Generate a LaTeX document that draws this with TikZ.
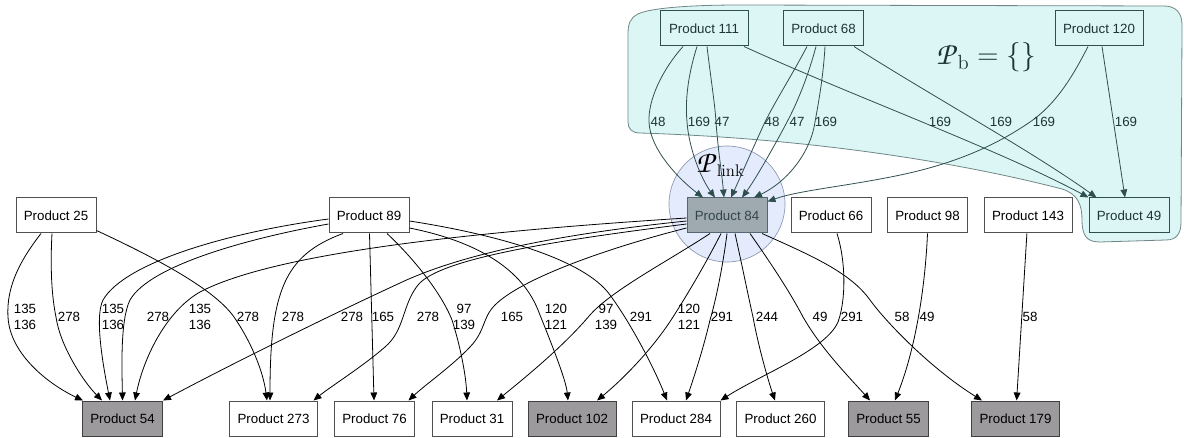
\documentclass[tikz,border=0pt]{standalone}
\usepackage{fix-cm}
\usepackage[no-math]{fontspec}
\newfontfamily\lsans{Liberation Sans}
\usetikzlibrary{arrows.meta,calc,backgrounds}
\DeclareMathAlphabet{\mathpzc}{OT1}{pzc}{m}{it}

\definecolor{slate}{HTML}{2F4F4F}
\definecolor{slatetext}{HTML}{1F3535}
\definecolor{clusterfill}{HTML}{DCF5F5}
\definecolor{clusterline}{HTML}{6F8787}
\definecolor{linkfill}{HTML}{E4EBFC}
\definecolor{linkline}{HTML}{8A97B0}
\definecolor{hubfill}{HTML}{9EAAB0}
\definecolor{hubline}{HTML}{56666E}
\definecolor{hubtext}{HTML}{34444C}
\definecolor{sinkfill}{HTML}{9C9A9C}
\definecolor{boxline}{HTML}{505050}

\tikzset{
  prod/.style={draw=boxline, fill=white, line width=0.75pt, minimum height=26.25pt,
    minimum width=60pt, inner sep=0pt, font=\lsans\fontsize{10}{12}\selectfont},
  wide/.style={minimum width=66pt},
  sink/.style={fill=sinkfill, draw=black!75},
  hub/.style={fill=hubfill, draw=hubline, text=hubtext},
  upper/.style={fill=clusterfill, draw=slate, text=slatetext},
  e/.style={draw=black, line width=0.6pt, -{Triangle[length=6pt,width=5pt]}},
  eu/.style={e, draw=slate},
  lbl/.style={font=\lsans\fontsize{10}{12}\selectfont, align=center, inner sep=0pt},
  lblu/.style={lbl, text=slatetext},
}

\begin{document}
\begin{tikzpicture}[x=0.75pt, y=-0.75pt]
\useasboundingbox (0,0) rectangle (1184,438);

% products
\node[prod,wide,upper] (p111) at (704,28.5) {Product 111};
\node[prod,upper]      (p68)  at (823.5,28.5) {Product 68};
\node[prod,wide,upper] (p120) at (1099,28.5) {Product 120};

\node[prod]      (p25)  at (56,215.5)   {Product 25};
\node[prod]      (p89)  at (369,215.5)  {Product 89};
\node[prod,hub]  (p84)  at (727,215.5)  {Product 84};
\node[prod]      (p66)  at (831,215.5)  {Product 66};
\node[prod]      (p98)  at (927.5,215.5) {Product 98};
\node[prod,wide] (p143) at (1028,215.5) {Product 143};
\node[prod,upper] (p49) at (1129,215.5) {Product 49};

\node[prod,sink]      (p54)  at (122.5,418.5) {Product 54};
\node[prod,wide]      (p273) at (273.5,418.5) {Product 273};
\node[prod]           (p76)  at (374.5,418.5) {Product 76};
\node[prod]           (p31)  at (472,418.5)   {Product 31};
\node[prod,wide,sink] (p102) at (572,418.5)   {Product 102};
\node[prod,wide]      (p284) at (676,418.5)   {Product 284};
\node[prod,wide]      (p260) at (780.5,418.5) {Product 260};
\node[prod,sink]      (p55)  at (888.5,418.5) {Product 55};
\node[prod,wide,sink] (p179) at (1015.5,418.5) {Product 179};

% cluster region and link zone
\begin{scope}[on background layer]
  \draw[fill=clusterfill, draw=clusterline, line width=0.6pt]
    (640,133) .. controls (800,138) and (950,160) .. (1062,189)
    .. controls (1078,194) and (1082,205) .. (1082,220)
    .. controls (1082,236) and (1087,242) .. (1100,242)
    -- (1166,240) .. controls (1177,240) and (1181,233) .. (1181,222)
    -- (1182,25) .. controls (1182,13) and (1176,6) .. (1164,6)
    -- (740,5) .. controls (690,5) and (650,8) .. (638,14)
    .. controls (630,18) and (628,24) .. (628,34)
    -- (628,122) .. controls (628,129) and (632,133) .. (640,133) -- cycle;
  \node[circle, minimum size=87pt, fill=linkfill, draw=linkline, line width=0.5pt]
    (zone) at (727,204) {};
\end{scope}

\node[anchor=base west, inner sep=0pt, font=\fontsize{18}{20}\selectfont]
  (plink) at (696,173) {$\mbox{\scalebox{1.3}{$\mathpzc{P}$}}_{\mathrm{link}}$};
\node[anchor=base west, inner sep=0pt, text=slatetext, font=\fontsize{22}{26}\selectfont]
  (pb) at (936,65) {$\mbox{\scalebox{1.1}{$\mathpzc{P}$}}_{\mathrm{b}} = \{\}$};

% edges into Product 84 and Product 49
\draw[eu] ($(p111.south)+(-21,0)$) .. controls (662,70) and (648,100) .. (649,122)
  .. controls (650,150) and (680,180) .. ($(p84.north)+(-24,0)$);
\draw[eu] ($(p111.south)+(-7,0)$) .. controls (688,75) and (685,100) .. (687,122)
  .. controls (689,150) and (702,180) .. ($(p84.north)+(-12,0)$);
\draw[eu] ($(p111.south)+(3,0)$) .. controls (711,80) and (715,105) .. (716,122)
  .. controls (718,150) and (722,175) .. ($(p84.north)+(-3,0)$);
\draw[eu] ($(p111.south)+(40,0)$) .. controls (850,95) and (1000,150) .. (p49.north west);
\draw[eu] ($(p68.south)+(-16.5,0)$) .. controls (792,75) and (776,100) .. (765,122)
  .. controls (752,150) and (740,178) .. ($(p84.north)+(4,0)$);
\draw[eu] ($(p68.south)+(-7.5,0)$) .. controls (807,80) and (796,105) .. (787,122)
  .. controls (775,145) and (755,180) .. ($(p84.north)+(15,0)$);
\draw[eu] ($(p68.south)+(1.5,0)$) .. controls (823,80) and (818,105) .. (815,122)
  .. controls (810,155) and (785,183) .. ($(p84.north)+(27,0)$);
\draw[eu] ($(p68.south)+(30.5,0)$) .. controls (930,95) and (1030,150) .. ($(p49.north west)+(8,0)$);
\draw[eu] ($(p120.south)+(-11,0)$) .. controls (1072,78) and (1055,105) .. (1030,122)
  .. controls (995,146) and (955,163) .. (905,174)
  .. controls (850,186) and (800,190) .. ($(p84.north east)+(0,4)$);
\draw[eu] ($(p120.south)+(3,0)$) -- ($(p49.north)+(-4,0)$);

\node[lblu] (t1) at (658,122) {48};
\node[lblu] (t2) at (699,122) {169};
\node[lblu] (t3) at (722,122) {47};
\node[lblu] (t4) at (772,122) {48};
\node[lblu] (t5) at (797,122) {47};
\node[lblu] (t6) at (826,122) {169};
\node[lblu] (t7) at (940,122) {169};
\node[lblu] (t8) at (1001,122) {169};
\node[lblu] (t9) at (1044,122) {169};
\node[lblu] (t10) at (1126,122) {169};

% edges from Product 25
\draw[e] ($(p25.south)+(-15,0)$) .. controls (22,258) and (6,285) .. (8,317)
  .. controls (10,355) and (50,385) .. ($(p54.north west)+(1,0)$);
\draw[e] ($(p25.south)+(-4,0)$) .. controls (50,270) and (52,298) .. (56,317)
  .. controls (60,345) and (82,380) .. ($(p54.north)+(-20.5,0)$);
\draw[e] ($(p25.south east)+(0,-3)$) .. controls (160,260) and (215,290) .. (234,317)
  .. controls (250,340) and (263,370) .. ($(p273.north)+(-6.5,0)$);

% edges from Product 89
\draw[e] ($(p89.west)+(0,3.5)$) .. controls (230,232) and (125,262) .. (103,300)
  .. controls (94,318) and (104,370) .. ($(p54.north)+(-12.5,0)$);
\draw[e] ($(p89.west)+(0,8.5)$) .. controls (250,238) and (150,265) .. (130,300)
  .. controls (120,320) and (122,370) .. (p54.north);
\draw[e] ($(p89.south)+(-26,0)$) .. controls (285,255) and (270,290) .. ($(p273.north)+(-3.5,0)$);
\draw[e] (p89) -- (p76);
\draw[e] ($(p89.south)+(18,0)$) .. controls (410,255) and (440,290) .. (452,320)
  .. controls (460,345) and (466,375) .. ($(p31.north)+(-5,0)$);
\draw[e] ($(p89.east)+(0,12.5)$) .. controls (470,240) and (520,265) .. (538,310)
  .. controls (552,345) and (566,380) .. ($(p102.north)+(-4,0)$);
\draw[e] ($(p89.east)+(0,5.5)$) .. controls (500,235) and (585,260) .. (610,295)
  .. controls (632,325) and (655,370) .. ($(p284.north)+(-9,0)$);

% edges from Product 84
\draw[e] ($(p84.west)+(0,2.5)$) .. controls (500,230) and (280,250) .. (200,292)
  .. controls (165,312) and (143,360) .. ($(p54.north)+(12.5,0)$);
\draw[e] ($(p84.west)+(0,5.5)$) .. controls (580,232) and (470,250) .. (400,283)
  .. controls (320,320) and (230,365) .. (p54.north east);
\draw[e] ($(p84.west)+(0,8.5)$) .. controls (560,240) and (440,258) .. (418,285)
  .. controls (402,305) and (405,330) .. (385,347)
  .. controls (362,367) and (330,387) .. ($(p273.north east)+(-4.5,0)$);
\draw[e] ($(p84.west)+(0,12.5)$) .. controls (600,250) and (520,280) .. (495,305)
  .. controls (482,318) and (486,330) .. (470,347)
  .. controls (452,366) and (425,385) .. ($(p76.north east)+(-6.5,0)$);
\draw[e] ($(p84.south)+(-17,0)$) .. controls (670,260) and (612,290) .. (590,315)
  .. controls (562,348) and (522,380) .. ($(p31.north)+(25,0)$);
\draw[e] ($(p84.south)+(-6,0)$) .. controls (705,265) and (687,295) .. (673,317)
  .. controls (652,350) and (622,380) .. ($(p102.north)+(25,0)$);
\draw[e] (p84.south) .. controls (723,265) and (716,300) .. (710,320)
  .. controls (703,350) and (693,380) .. ($(p284.north)+(10,0)$);
\draw[e] ($(p84.south)+(8,0)$) .. controls (742,265) and (748,295) .. (753,317)
  .. controls (758,345) and (768,380) .. ($(p260.north)+(-5.5,0)$);
\draw[e] ($(p84.south)+(23,0)$) .. controls (770,262) and (790,292) .. (803,317)
  .. controls (822,350) and (850,378) .. ($(p55.north)+(-18.5,0)$);
\draw[e] ($(p84.south)+(35,0)$) .. controls (810,255) and (850,272) .. (870,300)
  .. controls (886,322) and (930,368) .. ($(p179.north)+(-33.5,0)$);

% remaining edges
\draw[e] ($(p66.south)+(6,0)$) .. controls (846,262) and (846,300) .. (838,322)
  .. controls (826,350) and (760,375) .. (p284.north east);
\draw[e] (p98.south) .. controls (925,290) and (915,350) .. ($(p55.north)+(6.5,0)$);
\draw[e] (p143) -- (p179);

% edge labels
\node[lbl] (b1) at (25,317) {135\\136};
\node[lbl] (b2) at (69,317) {278};
\node[lbl] (b3) at (113,317) {135\\136};
\node[lbl] (b4) at (158,317) {278};
\node[lbl] (b5) at (200,317) {135\\136};
\node[lbl] (b6) at (248,317) {278};
\node[lbl] (b7) at (293,317) {278};
\node[lbl] (b8) at (352,317) {278};
\node[lbl] (b9) at (383,317) {165};
\node[lbl] (b10) at (428,317) {278};
\node[lbl] (b11) at (464,317) {97\\139};
\node[lbl] (b12) at (512,317) {165};
\node[lbl] (b13) at (556,317) {120\\121};
\node[lbl] (b14) at (606,317) {97\\139};
\node[lbl] (b15) at (641,317) {291};
\node[lbl] (b16) at (689,317) {120\\121};
\node[lbl] (b17) at (722,317) {291};
\node[lbl] (b18) at (767,317) {244};
\node[lbl] (b19) at (820,317) {49};
\node[lbl] (b20) at (852,317) {291};
\node[lbl] (b21) at (902,317) {58};
\node[lbl] (b22) at (927,317) {49};
\node[lbl] (b23) at (1030,317) {58};

\end{tikzpicture}
\end{document}
